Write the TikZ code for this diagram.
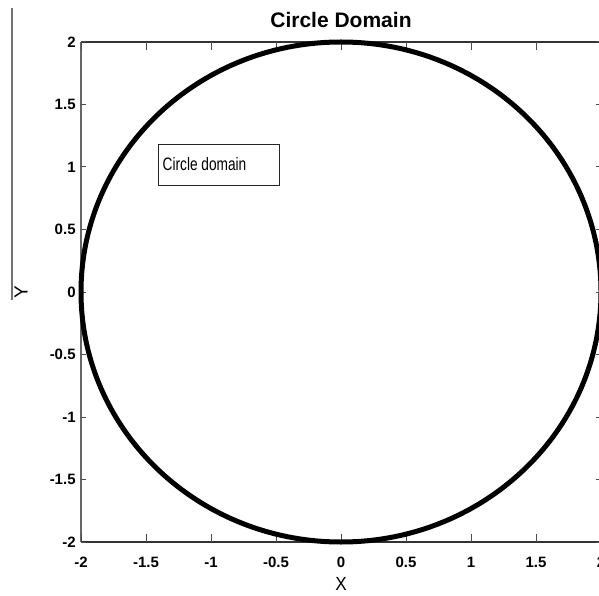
\documentclass[tikz,border=0pt]{standalone}
\usepackage{fontspec}
\setmainfont{Liberation Sans}
\usepackage{tikz}
\usetikzlibrary{positioning}

\tikzset{
  axisline/.style={black!80, line width=1.6pt},
  tickline/.style={black!70, line width=1pt},
  ticklabel/.style={font=\fontsize{15}{15}\selectfont\bfseries, inner sep=0pt},
  curve/.style={black, line width=5pt},
  legendbox/.style={draw=black!85, line width=0.9pt, minimum width=121pt, minimum height=41pt, inner sep=0pt}
}

\begin{document}
\begin{tikzpicture}[x=1pt,y=1pt]
    \clip (0,0) rectangle (599,595);
    \fill[white] (0,0) rectangle (599,595);

    % stray line left of the y label
    \draw[black!55, line width=1.5pt] (12,587) -- (12,295);

    \begin{scope}[shift={(341,303)}, x=130pt, y=125pt]
        % frame
        \draw[axisline] (-2,2) -- (2,2);
        \draw[axisline] (-2,-2) -- (2,-2);
        \draw[axisline, black!60] (-2,-2) -- (-2,2);
        \draw[axisline] (2,-2) -- (2,2);

        % ticks
        \foreach \v [count=\k] in {-2,-1.5,-1,-0.5,0,0.5,1,1.5,2} {
            \draw[tickline] (\v,-2) -- (\v,-1.936);
            \draw[tickline] (\v,2) -- (\v,1.936);
            \draw[tickline] (-2,\v) -- (-1.962,\v);
            \draw[tickline] (2,\v) -- (1.962,\v);
            \node[ticklabel] (xt\k) at (\v,-2.165) {\v};
            \node[ticklabel, anchor=east] (yt\k) at (-2.04,\v) {\v};
        }

        % domain boundary
        \draw[curve] (0,0) ellipse [x radius=2, y radius=2];

        % legend
        \node[legendbox] (legend) at (-0.942,1.02) {};
        \node[font=\fontsize{18}{18}\selectfont, xscale=0.76, anchor=west, inner sep=0pt] (legtext) at ([xshift=5pt]legend.west) {Circle domain};
    \end{scope}

    % labels
    \node[font=\fontsize{21}{21}\selectfont\bfseries, inner sep=0pt] (title) at (341,575.5) {Circle Domain};
    \node[font=\fontsize{19}{19}\selectfont, xscale=0.9, inner sep=0pt] (xlabel) at (341,11) {X};
    \node[font=\fontsize{19}{19}\selectfont, rotate=90, inner sep=0pt] (ylabel) at (21,303) {Y};
\end{tikzpicture}
\end{document}
